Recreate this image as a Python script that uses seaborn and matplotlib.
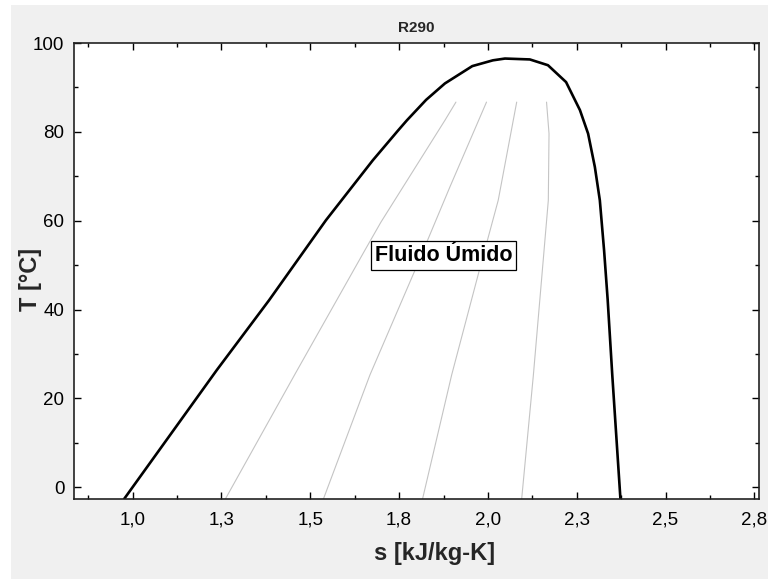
import matplotlib
matplotlib.use("Agg")
import matplotlib.pyplot as plt
import seaborn as sns
import pandas as pd
from matplotlib.ticker import FixedLocator, MultipleLocator
from matplotlib.patches import Rectangle

# Saturation dome (s in kJ/kg-K, T in °C)
dome_s = [0.976, 1.237, 1.384, 1.544, 1.676, 1.747, 1.772, 1.826, 1.879, 1.956,
          2.014, 2.048, 2.118, 2.169, 2.220, 2.259, 2.282, 2.301, 2.315, 2.327,
          2.337, 2.350, 2.373]
dome_T = [-2.63, 26.4, 42.1, 60.1, 73.6, 80.3, 82.6, 87.2, 90.9, 94.8,
          96.1, 96.5, 96.3, 95.0, 91.2, 84.9, 79.6, 72.1, 64.6, 53.3,
          42.3, 25.3, -2.63]

# Constant-quality lines
q02_s = [1.261, 1.460, 1.654, 1.699, 1.879, 1.910]
q02_T = [-2.63, 25.9, 53.4, 59.7, 82.6, 86.7]
q04_s = [1.537, 1.668, 1.795, 1.893, 1.996]
q04_T = [-2.63, 25.3, 48.9, 67.6, 86.7]
q06_s = [1.816, 1.898, 1.976, 2.029, 2.081]
q06_T = [-2.63, 25.3, 48.9, 64.6, 86.7]
q08_s = [2.095, 2.128, 2.158, 2.170, 2.172, 2.165]
q08_T = [-2.63, 25.3, 53.3, 64.6, 79.6, 86.7]

x_ticks = [1.0, 1.25, 1.5, 1.75, 2.0, 2.25, 2.5, 2.75]
x_tick_labels = ["1,0", "1,3", "1,5", "1,8", "2,0", "2,3", "2,5", "2,8"]
y_ticks = [0, 20, 40, 60, 80, 100]

sns.set_style("ticks")
plt.rcParams['font.family'] = ['Liberation Sans', 'DejaVu Sans']
plt.rcParams['xtick.direction'] = 'in'
plt.rcParams['ytick.direction'] = 'in'

fig = plt.figure(figsize=(7.68, 5.79), dpi=100, facecolor='white')
fig.patches.append(Rectangle((11 / 768, 0), 1, 1 - 5 / 579, transform=fig.transFigure,
                             facecolor='#F0F0F0', edgecolor='none', zorder=-10))
ax = fig.add_axes([74 / 768, 1 - 499 / 579, (759 - 74) / 768, (499 - 43) / 579])
ax.set_facecolor('white')

qual = [(q02_s, q02_T), (q04_s, q04_T), (q06_s, q06_T), (q08_s, q08_T)]
for s, T in qual:
    df = pd.DataFrame({"s": s, "T": T})
    sns.lineplot(data=df, x="s", y="T", sort=False, estimator=None, ax=ax,
                 color='#C4C4C4', linewidth=0.8)

df_dome = pd.DataFrame({"s": dome_s, "T": dome_T})
sns.lineplot(data=df_dome, x="s", y="T", sort=False, estimator=None, ax=ax,
             color='black', linewidth=1.9)

ax.set_xlim(0.835, 2.763)
ax.set_ylim(-2.63, 100)
ax.xaxis.set_major_locator(FixedLocator(x_ticks))
ax.set_xticklabels(x_tick_labels)
ax.xaxis.set_minor_locator(MultipleLocator(0.125))
ax.yaxis.set_major_locator(FixedLocator(y_ticks))
ax.yaxis.set_minor_locator(MultipleLocator(10))
ax.tick_params(which='both', top=True, right=True, direction='in', color='black',
               labelsize=13.5, labelcolor='black', width=1.0)
ax.tick_params(which='major', length=5)
ax.tick_params(axis='x', which='major', pad=9)
ax.tick_params(axis='y', which='major', pad=7)
ax.tick_params(which='minor', length=3)
for sp in ax.spines.values():
    sp.set_visible(True)
    sp.set_linewidth(1.2)
    sp.set_color('#222222')

ax.set_xlabel("s [kJ/kg-K]", fontsize=17, fontweight='bold')
ax.set_ylabel("T [°C]", fontsize=17, fontweight='bold')
ax.xaxis.set_label_coords(0.527, -0.095)
ax.yaxis.set_label_coords(-0.046, 0.482)
ax.set_title("R290", fontsize=11, fontweight='bold', pad=8)

ax.text(1.876, 52.25, "Fluido Úmido", fontsize=15.5, fontweight='bold',
        ha='center', va='center', color='black',
        bbox=dict(boxstyle='square,pad=0.18', facecolor='white', edgecolor='black', linewidth=0.9))

fig.savefig("out.png", dpi=100, facecolor=fig.get_facecolor())
